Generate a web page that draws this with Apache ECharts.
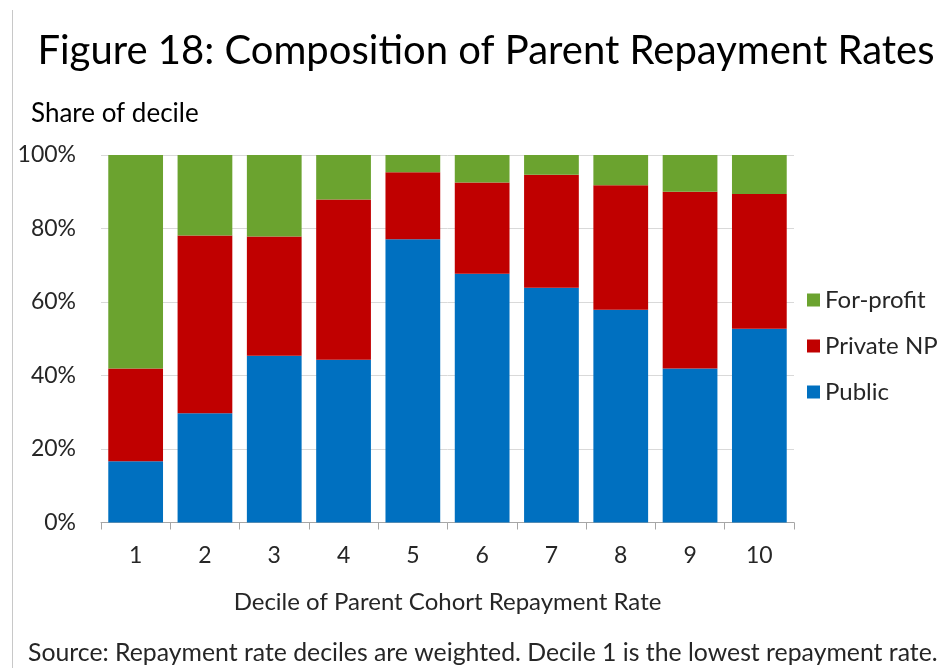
<!DOCTYPE html>
<html>
<head>
<meta charset="utf-8">
<script src="https://cdn.jsdelivr.net/npm/echarts@6/dist/echarts.min.js"></script>
<style>
  html, body { margin: 0; padding: 0; background: #fff; }
  #chart { width: 946px; height: 668px; }
</style>
</head>
<body>
<div id="chart"></div>
<script>
  // deciles of parent cohort repayment rate
  var deciles = ['1', '2', '3', '4', '5', '6', '7', '8', '9', '10'];
  // share of decile, in percent
  var publicShare = [16.7, 29.7, 45.4, 44.3, 77.1, 67.7, 63.9, 57.9, 41.9, 52.7];
  var privateNP = [25.2, 48.4, 32.4, 43.6, 18.2, 24.8, 30.7, 33.9, 48.1, 36.7];
  var forProfit = [58.1, 21.9, 22.2, 12.1, 4.7, 7.5, 5.4, 8.2, 10.0, 10.6];

  var font = 'Lato';
  var textColor = '#262626';

  var chart = echarts.init(document.getElementById('chart'));
  var option = {
    animation: false,
    textStyle: { fontFamily: font },
    title: [{
      text: 'Figure 18: Composition of Parent Repayment Rates',
      left: 481, top: 26, textAlign: 'center',
      textStyle: { fontFamily: font, fontSize: 40, fontWeight: 'normal', color: '#000' }
    }, {
      text: 'Share of decile',
      left: 26, top: 96,
      textStyle: { fontFamily: font, fontSize: 26, fontWeight: 'normal', color: '#000' }
    }, {
      text: 'Source: Repayment rate deciles are weighted. Decile 1 is the lowest repayment rate.',
      left: 23, top: 636,
      textStyle: { fontFamily: font, fontSize: 24.8, fontWeight: 'normal', color: textColor }
    }],
    legend: {
      orient: 'vertical',
      left: 802, top: 283,
      itemWidth: 13, itemHeight: 13, itemGap: 22,
      icon: 'rect',
      data: ['For-profit', 'Private NP', 'Public'],
      textStyle: { fontFamily: font, fontSize: 24, color: textColor, padding: [0, 0, 0, 0] }
    },
    grid: { left: 101, right: 152, top: 155, bottom: 145.5, containLabel: false },
    xAxis: {
      type: 'category',
      data: deciles,
      name: 'Decile of Parent Cohort Repayment Rate',
      nameLocation: 'middle',
      nameGap: 68,
      nameTextStyle: { fontFamily: font, fontSize: 24, color: textColor },
      axisLine: { lineStyle: { color: '#a6a6a6', width: 1 } },
      axisTick: { show: true, length: 7, lineStyle: { color: '#a6a6a6' } },
      axisLabel: { fontSize: 23, color: textColor, margin: 22 }
    },
    yAxis: {
      type: 'value',
      min: 0, max: 100, interval: 20,
      axisLine: { show: false },
      axisTick: { show: false },
      splitLine: { lineStyle: { color: '#d9d9d9', width: 1 } },
      axisLabel: { formatter: '{value}%', fontSize: 23, color: textColor, margin: 25 }
    },
    series: [{
      name: 'Public', type: 'bar', stack: 'total', data: publicShare,
      barCategoryGap: '21%', itemStyle: { color: '#0070C0' }
    }, {
      name: 'Private NP', type: 'bar', stack: 'total', data: privateNP,
      itemStyle: { color: '#C00000' }
    }, {
      name: 'For-profit', type: 'bar', stack: 'total', data: forProfit,
      itemStyle: { color: '#6BA32F' }
    }],
    graphic: [{
      type: 'line', silent: true,
      shape: { x1: 12.5, y1: 10, x2: 12.5, y2: 668 },
      style: { stroke: '#c8c8c8', lineWidth: 1 }
    }]
  };
  chart.setOption(option);
</script>
</body>
</html>
